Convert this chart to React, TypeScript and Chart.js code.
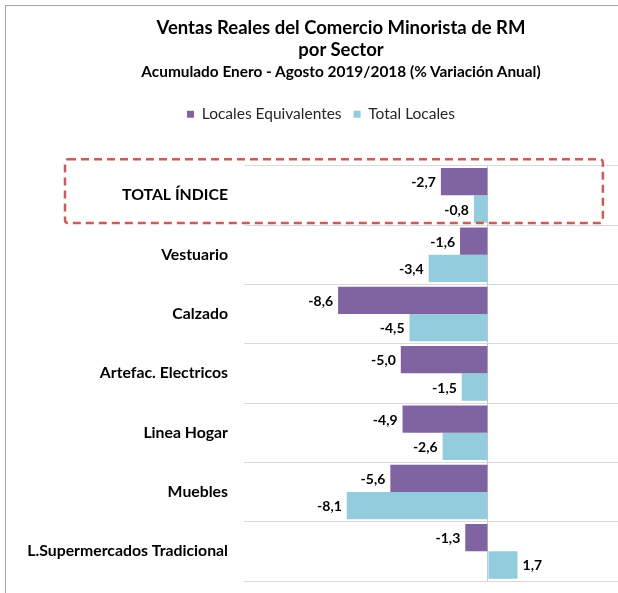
import React, { useEffect, useRef } from 'react';
import { Chart, registerables } from 'chart.js';

Chart.register(...registerables);

// ---- data ----
const categories = [
  'TOTAL ÍNDICE',
  'Vestuario',
  'Calzado',
  'Artefac. Electricos',
  'Linea Hogar',
  'Muebles',
  'L.Supermercados Tradicional',
];
const localesEquivalentes = [-2.7, -1.6, -8.6, -5.0, -4.9, -5.6, -1.3];
const totalLocales = [-0.8, -3.4, -4.5, -1.5, -2.6, -8.1, 1.7];
const seriesNames = ['Locales Equivalentes', 'Total Locales'];
const titleLines = ['Ventas Reales del Comercio Minorista de RM', 'por Sector'];
const subtitleText = 'Acumulado Enero - Agosto 2019/2018 (% Variación Anual)';
const highlightedCategory = 0;
const axisMin = -14;
const axisMax = 8.5;

const FONT = 'Lato, "Open Sans", sans-serif';
const PURPLE = '#8064A2';
const CYAN = '#93CDDD';

const fmt = (v: number) => v.toFixed(1).replace('.', ',');

const legendSpacer = {
  id: 'legendSpacer',
  beforeLayout(chart: any) {
    const lg = chart.legend;
    if (lg && !lg.__patched) {
      const orig = lg.fit;
      lg.fit = function () {
        orig.call(this);
        this.height += 33.65;
      };
      lg.__patched = true;
    }
  },
};

const dataLabels = {
  id: 'dataLabels',
  afterDatasetsDraw(chart: any) {
    const ctx = chart.ctx;
    ctx.save();
    ctx.font = `bold 14px ${FONT}`;
    ctx.fillStyle = '#000000';
    ctx.textBaseline = 'middle';
    chart.data.datasets.forEach((ds: any, di: number) => {
      const meta = chart.getDatasetMeta(di);
      meta.data.forEach((bar: any, i: number) => {
        const v = ds.data[i] as number;
        const { x, y } = bar.getProps(['x', 'y'], true);
        const neg = v < 0;
        ctx.textAlign = neg ? 'right' : 'left';
        ctx.fillText(fmt(v), neg ? x - 5 : x + 5, y + 1);
      });
    });
    ctx.restore();
  },
};

const highlightBox = {
  id: 'highlightBox',
  afterDraw(chart: any) {
    const ctx = chart.ctx;
    const ys = chart.scales.y;
    const xs = chart.scales.x;
    const band = (ys.bottom - ys.top) / categories.length;
    const c = ys.getPixelForValue(highlightedCategory);
    const top = c - band / 2 - 6.5;
    const bottom = c + band / 2 - 2;
    const left = chart.chartArea.left - 179;
    const right = xs.getPixelForValue(6.6);
    ctx.save();
    ctx.strokeStyle = '#CC5A5A';
    ctx.lineWidth = 2.5;
    ctx.setLineDash([8, 5]);
    ctx.beginPath();
    if (ctx.roundRect) ctx.roundRect(left, top, right - left, bottom - top, 3);
    else ctx.rect(left, top, right - left, bottom - top);
    ctx.stroke();
    ctx.restore();
  },
};

function BarChart() {
  const ref = useRef<HTMLCanvasElement | null>(null);
  useEffect(() => {
    if (!ref.current) return;
    const chart = new Chart(ref.current, {
      type: 'bar',
      data: {
        labels: categories,
        datasets: [
          {
            label: seriesNames[0],
            data: localesEquivalentes,
            backgroundColor: PURPLE,
            borderWidth: 0,
            categoryPercentage: 0.92,
            barPercentage: 1,
          },
          {
            label: seriesNames[1],
            data: totalLocales,
            backgroundColor: CYAN,
            borderWidth: 0,
            categoryPercentage: 0.92,
            barPercentage: 1,
          },
        ],
      },
      options: {
        indexAxis: 'y',
        animation: false,
        responsive: false,
        devicePixelRatio: 1,
        layout: { autoPadding: false, padding: { top: 88.55, right: 10, bottom: 12, left: 0 } },
        plugins: {
          title: { display: false },
          tooltip: { enabled: false },
          legend: {
            display: true,
            position: 'top',
            labels: {
              boxWidth: 7,
              boxHeight: 7,
              padding: 12,
              color: '#262626',
              font: { family: FONT, size: 15.5 },
            },
          },
        },
        scales: {
          x: {
            min: axisMin,
            max: axisMax,
            ticks: { display: false, stepSize: 2 },
            border: { display: false },
            grid: {
              drawTicks: false,
              color: (ctx: any) => (ctx.tick && ctx.tick.value === 0 ? '#C8C8C8' : 'rgba(0,0,0,0)'),
              lineWidth: 1,
            },
          },
          y: {
            border: { display: false },
            grid: {
              drawTicks: true,
              tickLength: 16,
              tickColor: 'rgba(0,0,0,0)',
              color: '#D9D9D9',
              lineWidth: 1,
              offset: true,
            },
            ticks: {
              padding: 0,
              color: '#000000',
              font: { family: FONT, size: 15.8, weight: 'bold' },
            },
            afterFit: (scale: any) => {
              scale.width = 238;
            },
          },
        },
      },
      plugins: [legendSpacer, dataLabels, highlightBox],
    } as any);
    return () => chart.destroy();
  }, []);
  return <canvas ref={ref} width={640} height={587} style={{ width: 640, height: 587, display: 'block' }} />;
}

export default function App() {
  const titleStyle: React.CSSProperties = {
    position: 'absolute',
    left: 0,
    width: 682,
    textAlign: 'center',
    fontFamily: FONT,
    fontWeight: 700,
    color: '#000',
    whiteSpace: 'nowrap',
  };
  return (
    <div
      style={{
        position: 'absolute',
        left: 0,
        top: 0,
        width: 618,
        height: 593,
        overflow: 'hidden',
        background: '#fff',
      }}
    >
      <div
        style={{
          position: 'absolute',
          left: 5,
          top: 5,
          width: 700,
          height: 700,
          borderTop: '1px solid #A6A6A6',
          borderLeft: '1px solid #A6A6A6',
        }}
      />
      <div style={{ position: 'absolute', left: 6, top: 6 }}>
        <BarChart />
      </div>
      <div style={{ ...titleStyle, top: 16, fontSize: 18.5, lineHeight: '22px' }}>{titleLines[0]}</div>
      <div style={{ ...titleStyle, top: 38, fontSize: 18.5, lineHeight: '22px' }}>{titleLines[1]}</div>
      <div style={{ ...titleStyle, top: 62, fontSize: 15.4, lineHeight: '18px' }}>{subtitleText}</div>
    </div>
  );
}
